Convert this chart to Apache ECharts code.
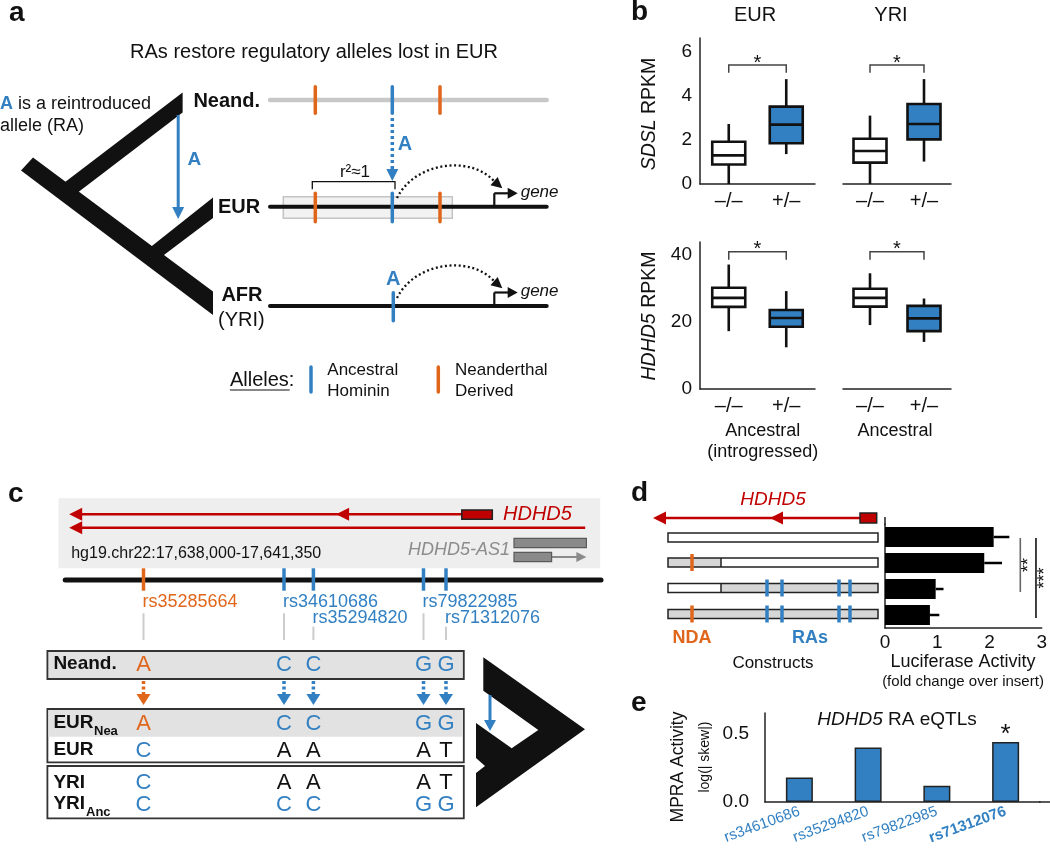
<!DOCTYPE html>
<html><head><meta charset="utf-8">
<script src="https://cdn.jsdelivr.net/npm/echarts@6/dist/echarts.min.js"></script>
<style>html,body{margin:0;padding:0;background:#fff}#c{width:1050px;height:851px}</style>
</head><body><div id="c"></div>
<script>
// ---------------- DATA ----------------
const genotypes = ['–/–', '+/–'];
// [min, Q1, median, Q3, max]
const sdslEUR = [[0, 0.89, 1.30, 1.92, 2.73], [1.36, 1.85, 2.70, 3.52, 4.77]];
const sdslYRI = [[0, 0.97, 1.50, 2.06, 3.11], [1.02, 2.03, 2.73, 3.64, 4.77]];
const hdhd5EUR = [[17.2, 24.4, 27.1, 30.1, 37.0], [12.4, 18.5, 21.1, 23.5, 29.1]];
const hdhd5YRI = [[19.0, 24.5, 27.1, 29.8, 34.4], [14.0, 17.2, 21.0, 24.7, 26.9]];
const sdslBracket = [5.41, 5.06];     // bracket level, drop level
const hdhd5Bracket = [40.8, 38.4];
const sdslTicks = [0, 2, 4, 6];
const hdhd5Ticks = [0, 20, 40];

const constructs = ['Ref', 'NDA', 'RAs', 'NDA+RAs'];
const constructHasNDA = [false, true, false, true];
const constructHasRAs = [false, false, true, true];
const lucMean = [2.08, 1.90, 0.97, 0.86];
const lucErrEnd = [2.38, 2.24, 1.12, 1.04];
const lucSig = [{ from: 0, to: 2, label: '**' }, { from: 0, to: 3, label: '***' }];
const lucTicks = [0, 1, 2, 3];

const mpraSnps = ['rs34610686', 'rs35294820', 'rs79822985', 'rs71312076'];
const mpraVals = [0.18, 0.40, 0.12, 0.44];
const mpraSig = [false, false, false, true];
const mpraTicks = [0.0, 0.5];

const cSnpIds = ['rs35285664', 'rs34610686', 'rs35294820', 'rs79822985', 'rs71312076'];
const alleleRows = [
  { name: 'Neand.', sub: '', seq: ['A', 'C', 'C', 'G', 'G'] },
  { name: 'EUR', sub: 'Nea', seq: ['A', 'C', 'C', 'G', 'G'] },
  { name: 'EUR', sub: '', seq: ['C', 'A', 'A', 'A', 'T'] },
  { name: 'YRI', sub: '', seq: ['C', 'A', 'A', 'A', 'T'] },
  { name: 'YRI', sub: 'Anc', seq: ['C', 'C', 'C', 'G', 'G'] }
];

// ---------------- STYLE / LAYOUT ----------------
const FONT = '"Liberation Sans", Arial, Helvetica, sans-serif';
const BLUE = '#3280c2';
const ORANGE = '#e0661c';
const RED = '#c00000';
const INK = '#111';

const G = [];
function T(x, y, text, o) {
  o = o || {};
  const st = {
    text: text, x: 0, y: 0, fill: o.color || INK, fontSize: o.size || 16,
    fontWeight: o.weight || 'normal', fontStyle: o.italic ? 'italic' : 'normal',
    fontFamily: FONT, align: o.align || 'left', verticalAlign: 'middle',
    textAlign: o.align || 'left', textVerticalAlign: 'middle'
  };
  if (o.rich) st.rich = o.rich;
  G.push({ type: 'text', x: x, y: y, rotation: o.rot || 0, z: 60, silent: true, style: st });
}
function L(x1, y1, x2, y2, stroke, lw, dash, cap, z) {
  G.push({ type: 'line', z: z || 40, silent: true, shape: { x1: x1, y1: y1, x2: x2, y2: y2 },
    style: { stroke: stroke || INK, lineWidth: lw || 1.5, lineDash: dash || null, lineCap: cap || 'butt' } });
}
function R(x, y, w, h, fill, stroke, lw, z) {
  G.push({ type: 'rect', z: z || 30, silent: true, shape: { x: x, y: y, width: w, height: h },
    style: { fill: fill || 'none', stroke: stroke || null, lineWidth: lw || 0 } });
}
function P(pts, fill, z) {
  G.push({ type: 'polygon', z: z || 40, silent: true, shape: { points: pts }, style: { fill: fill } });
}
function PL(pts, stroke, lw) {
  G.push({ type: 'polyline', z: 40, silent: true, shape: { points: pts }, style: { stroke: stroke, lineWidth: lw, fill: null } });
}
function B(x1, y1, c1x, c1y, c2x, c2y, x2, y2) {
  G.push({ type: 'bezierCurve', z: 40, silent: true,
    shape: { x1: x1, y1: y1, cpx1: c1x, cpy1: c1y, cpx2: c2x, cpy2: c2y, x2: x2, y2: y2 },
    style: { stroke: INK, lineWidth: 2.3, lineDash: [2, 2.6], fill: null } });
}
function head(tx, ty, dx, dy, len, hw, color) {
  const n = Math.hypot(dx, dy); dx /= n; dy /= n;
  const bx = tx - dx * len, by = ty - dy * len, px = -dy, py = dx;
  P([[tx, ty], [bx + px * hw, by + py * hw], [bx - px * hw, by - py * hw]], color, 45);
}
const ital = (size, color) => ({ i: { fontStyle: 'italic', fontSize: size, fontFamily: FONT, fill: color || INK, color: color || INK } });

// ---------- Panel a ----------
T(9, 13, 'a', { size: 28, weight: 'bold' });
T(314, 52, 'RAs restore regulatory alleles lost in EUR', { size: 20, align: 'center' });
T(0, 104, '{a|A} is a reintroduced', { size: 18, rich: { a: { fontWeight: 'bold', fontSize: 18, fontFamily: FONT, fill: BLUE, color: BLUE } } });
T(0, 126, 'allele (RA)', { size: 18 });
// tree
P([[21, 170.5], [33, 157.5], [213, 291.5], [213, 315]], INK);
P([[52, 192], [182.6, 92.5], [182.6, 112.5], [68, 200]], INK);
P([[138, 257], [213, 197.5], [213, 218], [152, 264]], INK);
L(178.2, 115, 178.2, 208, BLUE, 3);
head(178.2, 219, 0, 1, 12, 6, BLUE);
T(194.4, 160, 'A', { size: 19, weight: 'bold', color: BLUE, align: 'center' });
T(193.4, 101.7, 'Neand.', { size: 20, weight: 'bold' });
T(218, 207.3, 'EUR', { size: 20, weight: 'bold' });
T(221.4, 295, 'AFR', { size: 20, weight: 'bold' });
T(218, 320, '(YRI)', { size: 20 });
// chromosomes
const aOrangeX = [315.3, 440], aBlueX = 392.3;
L(270, 100, 546.7, 100, '#c8c8c8', 4.5, null, 'round', 35);
R(283.3, 196.7, 169, 21.6, '#f2f2f2', '#c4c4c4', 1.5, 30);
L(270, 206.7, 546.7, 206.7, INK, 4, null, 'round', 35);
L(270, 306, 546.7, 306, INK, 4, null, 'round', 35);
aOrangeX.forEach(x => { L(x, 86.7, x, 113.3, ORANGE, 3.5, null, 'round'); L(x, 193.3, x, 221.7, ORANGE, 3.5, null, 'round'); });
L(aBlueX, 86.7, aBlueX, 113.3, BLUE, 3.5, null, 'round');
L(aBlueX, 193.3, aBlueX, 221.7, BLUE, 3.5, null, 'round');
L(aBlueX + 1, 292.7, aBlueX + 1, 320.7, BLUE, 3.5, null, 'round');
L(aBlueX, 118, aBlueX, 169, BLUE, 3.5, [3, 3]);
head(aBlueX, 181, 0, 1, 12, 6, BLUE);
T(405, 144, 'A', { size: 20, weight: 'bold', color: BLUE, align: 'center' });
T(aBlueX + 1, 279.3, 'A', { size: 20, weight: 'bold', color: BLUE, align: 'center' });
PL([[312.3, 189.3], [312.3, 181.7], [395, 181.7], [395, 189.3]], INK, 1.3);
T(355, 172.5, 'r²≈1', { size: 17, align: 'center' });
B(397, 198, 415, 162, 470, 155, 494, 181);
head(502.3, 188.3, 0.75, 0.66, 11, 5.5, INK);
B(397, 298, 415, 262, 470, 255, 494, 281);
head(502.3, 288.3, 0.75, 0.66, 11, 5.5, INK);
[[206.7, 193.3], [306, 292.5]].forEach(([yl, yp]) => {
  L(494.3, yl, 494.3, yp, INK, 2.2); L(494.3, yp, 509, yp, INK, 2.2);
  head(517.7, yp, 1, 0, 10, 5.5, INK);
  T(520.7, yp - 1, 'gene', { size: 17, italic: true });
});
// legend
T(229.9, 380, 'Alleles:', { size: 20 });
L(229.9, 390, 289.7, 390, INK, 1.2);
L(311, 367, 311, 392, BLUE, 3.5, null, 'round');
T(327.3, 370, 'Ancestral', { size: 17 }); T(327.3, 391.7, 'Hominin', { size: 17 });
L(438.3, 367, 438.3, 392, ORANGE, 3.5, null, 'round');
T(455, 370, 'Neanderthal', { size: 17 }); T(455, 391.7, 'Derived', { size: 17 });

// ---------- Panel c ----------
T(8, 494.5, 'c', { size: 28, weight: 'bold' });
R(58.5, 498.3, 541.7, 70, '#eeeeee', null, 0, 20);
L(75, 514.3, 461.8, 514.3, RED, 2.5);
head(69.2, 514.3, -1, 0, 13, 6.5, RED); head(336.1, 514.3, -1, 0, 13, 6.5, RED);
R(461.8, 510, 30.5, 9.3, RED, '#222', 1.5, 42);
L(75, 527.7, 585.2, 527.7, RED, 2.5);
head(69.2, 527.7, -1, 0, 13, 6.5, RED);
T(503, 514.3, 'HDHD5', { size: 20, italic: true, color: RED });
T(71.2, 553.3, 'hg19.chr22:17,638,000-17,641,350', { size: 16 });
T(510, 550, 'HDHD5-AS1', { size: 18, italic: true, color: '#8c8c8c', align: 'right' });
R(514, 538.3, 72.4, 9.4, '#8a8a8a', '#5a5a5a', 1.2, 42);
R(514, 552.3, 37.6, 9.4, '#8a8a8a', '#5a5a5a', 1.2, 42);
L(551.6, 557, 578, 557, '#8a8a8a', 2);
head(586.4, 557, 1, 0, 10, 5, '#8a8a8a');
L(65.2, 580, 601, 580, INK, 5, null, 'round', 35);
const cSnpX = [143.5, 284, 313.4, 423.5, 446];
const cLabRow = [0, 0, 1, 0, 1];
cSnpIds.forEach((id, i) => {
  const x = cSnpX[i], col = i === 0 ? ORANGE : BLUE;
  L(x, 568.3, x, 590.7, col, 3.5);
  T(x - 1, cLabRow[i] ? 618.3 : 601.7, id, { size: 18, color: col });
  L(x, cLabRow[i] ? 626.7 : 613.3, x, 640, '#cccccc', 2);
});
// table
R(47.4, 651, 416.4, 28, '#e2e2e2', '#333', 1.8, 25);
R(47.4, 709, 416.4, 53.3, '#ffffff', '#333', 1.8, 25);
R(48.4, 710, 414.4, 26.7, '#e2e2e2', null, 0, 26);
R(47.4, 766, 416.4, 52.3, '#ffffff', '#333', 1.8, 25);
const rowY = [665, 724, 750.7, 783.3, 805];
const anc = alleleRows[4].seq, nea = alleleRows[0].seq;
alleleRows.forEach((r, k) => {
  T(53.4, rowY[k] - 1, r.name, { size: 19, weight: 'bold' });
  if (r.sub) T(r.name === 'EUR' ? 94 : 86, rowY[k] + 7, r.sub, { size: 13, weight: 'bold' });
  r.seq.forEach((a, i) => {
    const col = a === anc[i] ? BLUE : (a === nea[i] ? ORANGE : INK);
    T(cSnpX[i], rowY[k], a, { size: 22, color: col, align: 'center' });
  });
});
cSnpX.forEach((x, i) => {
  const col = i === 0 ? ORANGE : BLUE;
  L(x, 681, x, 695, col, 3.5, [3, 2.5]);
  head(x, 705, 0, 1, 11, 7, col);
});
P([[483.3, 657.3], [585, 729.3], [476, 807.3], [476, 773], [485, 766], [476, 758], [476, 723], [511.7, 748.3], [538.3, 730], [483.3, 690.7]], INK);
L(490, 695, 490, 720, BLUE, 3);
head(490, 731, 0, 1, 11, 6, BLUE);

// ---------- Panel d (schematic) ----------
T(631, 493, 'd', { size: 28, weight: 'bold' });
T(773, 500, 'HDHD5', { size: 19, italic: true, color: RED, align: 'center' });
L(664, 518, 860, 518, RED, 2.5);
head(653, 518, -1, 0, 13, 6.5, RED); head(770, 518, -1, 0, 13, 6.5, RED);
R(860, 513, 16.7, 10, RED, '#222', 1.5, 42);
const dRowY = [537.5, 562.5, 588, 614];
const ndaX = 692, raX = [767, 782, 839, 850];
constructs.forEach((c, i) => {
  const y = dRowY[i];
  R(668, y - 4.5, 53, 9, constructHasNDA[i] ? '#d6d6d6' : '#ffffff', null, 0, 30);
  R(721, y - 4.5, 157, 9, constructHasRAs[i] ? '#d6d6d6' : '#ffffff', null, 0, 30);
  R(668, y - 4.5, 210, 9, 'none', '#222', 1.5, 31);
  if (constructHasNDA[i] !== constructHasRAs[i]) L(721, y - 4.5, 721, y + 4.5, '#222', 1.5);
  if (constructHasNDA[i]) L(ndaX, y - 8.5, ndaX, y + 8.5, ORANGE, 3.5);
  if (constructHasRAs[i]) raX.forEach(x => L(x, y - 8.5, x, y + 8.5, BLUE, 3.5));
});
T(692, 638, 'NDA', { size: 18, weight: 'bold', color: ORANGE, align: 'center' });
T(810, 638, 'RAs', { size: 18, weight: 'bold', color: BLUE, align: 'center' });
T(773, 663, 'Constructs', { size: 17, align: 'center' });
T(963, 662, 'Luciferase Activity', { size: 18, align: 'center' });
T(963, 682, '(fold change over insert)', { size: 15, align: 'center' });
L(885, 517, 885, 525, '#222', 1.5);

// ---------- Panel e texts ----------
T(631, 703, 'e', { size: 28, weight: 'bold' });
T(678, 767, 'MPRA Activity', { size: 17.5, align: 'center', rot: Math.PI / 2 });
T(705, 757, 'log(| skew|)', { size: 14, align: 'center', rot: Math.PI / 2 });
T(897, 720, '{i|HDHD5} RA eQTLs', { size: 19, align: 'center', rich: ital(19) });
L(1039, 802, 1050, 802, '#222', 1.5);

// ---------- Panel b texts ----------
T(631, 12, 'b', { size: 28, weight: 'bold' });
T(755, 15, 'EUR', { size: 20, align: 'center' });
T(891, 15, 'YRI', { size: 20, align: 'center' });
T(650, 114, '{i|SDSL} RPKM', { size: 19.5, align: 'center', rot: Math.PI / 2, rich: ital(19.5) });
T(650, 316, '{i|HDHD5} RPKM', { size: 19.5, align: 'center', rot: Math.PI / 2, rich: ital(19.5) });
T(762.7, 430.7, 'Ancestral', { size: 18, align: 'center' });
T(762.7, 452, '(introgressed)', { size: 18, align: 'center' });
T(895, 430.7, 'Ancestral', { size: 18, align: 'center' });

// ---------------- CHART ----------------
const axLine = { show: true, lineStyle: { color: '#222', width: 1.5 } };
const lab = (size, extra) => Object.assign({ fontSize: size, color: INK, fontFamily: FONT }, extra || {});
const tickFmt = (ticks, dec) => v => ticks.some(t => Math.abs(t - v) < 1e-9) ? (dec ? v.toFixed(dec) : String(v)) : '';

function boxRender(params, api) {
  const c = api.value(0);
  const x = api.coord([c, api.value(1)])[0];
  const yv = [1, 2, 3, 4, 5].map(d => api.coord([c, api.value(d)])[1]);
  const hw = 16.5;
  const st = { stroke: INK, lineWidth: 2.6 };
  return { type: 'group', children: [
    { type: 'line', shape: { x1: x, y1: yv[0], x2: x, y2: yv[1] }, style: st },
    { type: 'line', shape: { x1: x, y1: yv[3], x2: x, y2: yv[4] }, style: st },
    { type: 'rect', shape: { x: x - hw, y: yv[3], width: 2 * hw, height: yv[1] - yv[3] },
      style: { fill: api.value(6) ? BLUE : '#ffffff', stroke: INK, lineWidth: 2.6 } },
    { type: 'line', shape: { x1: x - hw, y1: yv[2], x2: x + hw, y2: yv[2] }, style: st }
  ] };
}
function bracketRender(params, api) {
  const p0 = api.coord([api.value(0), api.value(3)]);
  const p1 = api.coord([api.value(0), api.value(2)]);
  const p2 = api.coord([api.value(1), api.value(2)]);
  const p3 = api.coord([api.value(1), api.value(3)]);
  return { type: 'group', children: [
    { type: 'polyline', shape: { points: [p0, p1, p2, p3] }, style: { stroke: '#444', lineWidth: 1.5, fill: null } },
    { type: 'text', x: (p1[0] + p2[0]) / 2, y: p1[1] - 2,
      style: { text: '*', fontSize: 20, fontFamily: FONT, fill: INK, align: 'center', verticalAlign: 'middle', textAlign: 'center', textVerticalAlign: 'middle' } }
  ] };
}
const boxData = arr => arr.map((v, i) => [i].concat(v).concat([i]));
const boxSeries = (arr, idx) => ({ type: 'custom', xAxisIndex: idx, yAxisIndex: idx, renderItem: boxRender,
  encode: { x: 0, y: [1, 2, 3, 4, 5] }, data: boxData(arr), z: 5 });
const brSeries = (br, idx) => ({ type: 'custom', xAxisIndex: idx, yAxisIndex: idx, renderItem: bracketRender,
  encode: { x: [0, 1], y: [2, 3] }, data: [[0, 1, br[0], br[1]]], z: 5 });

const bX = idx => ({ gridIndex: idx, type: 'category', data: genotypes, axisLine: axLine, axisTick: { show: false },
  axisLabel: lab(20, { margin: 7 }), splitLine: { show: false } });
const bY = (idx, max, ticks, show) => ({ gridIndex: idx, type: 'value', min: 0, max: max, interval: ticks[1] - ticks[0],
  show: show, axisLine: axLine, axisTick: { show: false }, splitLine: { show: false },
  axisLabel: lab(19, { margin: 8, formatter: tickFmt(ticks) }) });

const option = {
  animation: false,
  textStyle: { fontFamily: FONT },
  grid: [
    { left: 700, top: 38, width: 115, height: 146 },
    { left: 843, top: 38, width: 108, height: 146 },
    { left: 700, top: 242, width: 115, height: 147 },
    { left: 843, top: 242, width: 108, height: 147 },
    { left: 885, top: 524, width: 161, height: 104 },
    { left: 765, top: 713, width: 275, height: 89 }
  ],
  xAxis: [
    bX(0), bX(1), bX(2), bX(3),
    { gridIndex: 4, type: 'value', min: 0, max: 3, interval: 1, axisLine: axLine, axisTick: { show: false },
      splitLine: { show: false }, axisLabel: lab(19, { margin: 5, formatter: tickFmt(lucTicks) }) },
    { gridIndex: 5, type: 'category', data: mpraSnps, axisLine: axLine, axisTick: { show: false },
      axisLabel: lab(15, { color: BLUE, rotate: 20, interval: 0, margin: 9,
        formatter: (v, i) => mpraSig[i] ? '{b|' + v + '}' : v,
        rich: { b: { fontWeight: 'bold', fontSize: 15, color: BLUE, fontFamily: FONT } } }) }
  ],
  yAxis: [
    bY(0, 6.64, sdslTicks, true), bY(1, 6.64, sdslTicks, false),
    bY(2, 43.7, hdhd5Ticks, true), bY(3, 43.7, hdhd5Ticks, false),
    { gridIndex: 4, type: 'category', data: constructs, inverse: true, axisLine: axLine,
      axisTick: { show: false }, axisLabel: { show: false } },
    { gridIndex: 5, type: 'value', min: 0, max: 0.654, interval: 0.5, axisLine: axLine, axisTick: { show: false },
      splitLine: { show: false }, axisLabel: lab(19, { margin: 16, formatter: tickFmt(mpraTicks, 1) }) }
  ],
  series: [
    boxSeries(sdslEUR, 0), boxSeries(sdslYRI, 1), boxSeries(hdhd5EUR, 2), boxSeries(hdhd5YRI, 3),
    brSeries(sdslBracket, 0), brSeries(sdslBracket, 1), brSeries(hdhd5Bracket, 2), brSeries(hdhd5Bracket, 3),
    { type: 'bar', xAxisIndex: 4, yAxisIndex: 4, data: lucMean, barWidth: 20, itemStyle: { color: '#000' } },
    { type: 'custom', xAxisIndex: 4, yAxisIndex: 4, encode: { x: [0, 1], y: 2 },
      data: lucMean.map((m, i) => [m, lucErrEnd[i], i]),
      renderItem: (p, api) => {
        const a = api.coord([api.value(0), api.value(2)]), b = api.coord([api.value(1), api.value(2)]);
        return { type: 'line', shape: { x1: a[0], y1: a[1], x2: b[0], y2: b[1] }, style: { stroke: '#000', lineWidth: 2.5 } };
      } },
    { type: 'custom', xAxisIndex: 4, yAxisIndex: 4, encode: { x: 0, y: [1, 2] },
      data: lucSig.map((s, i) => [2.59 + 0.3 * i, s.from, s.to]),
      renderItem: (p, api) => {
        const a = api.coord([api.value(0), api.value(1)]), b = api.coord([api.value(0), api.value(2)]);
        const col = p.dataIndex === 0 ? '#666' : '#111';
        return { type: 'group', children: [
          { type: 'line', shape: { x1: a[0], y1: a[1] + 1, x2: b[0], y2: b[1] + 3 }, style: { stroke: col, lineWidth: 1.6 } },
          { type: 'text', x: a[0] + 9, y: (a[1] + b[1]) / 2 + 2, rotation: Math.PI / 2,
            style: { text: lucSig[p.dataIndex].label, fontSize: 18, fontFamily: FONT, fill: INK,
              align: 'center', verticalAlign: 'middle', textAlign: 'center', textVerticalAlign: 'middle' } }
        ] };
      } },
    { type: 'bar', xAxisIndex: 5, yAxisIndex: 5, barWidth: 27,
      itemStyle: { color: BLUE, borderColor: '#222', borderWidth: 1.5 },
      data: mpraVals.map((v, i) => mpraSig[i] ? { value: v, label: { show: true, position: 'top', formatter: '*',
        fontSize: 26, color: INK, distance: 0, offset: [0, 6] } } : v) }
  ],
  graphic: { elements: G }
};
const chart = echarts.init(document.getElementById('c'), null, { renderer: 'canvas' });
chart.setOption(option);
</script></body></html>
